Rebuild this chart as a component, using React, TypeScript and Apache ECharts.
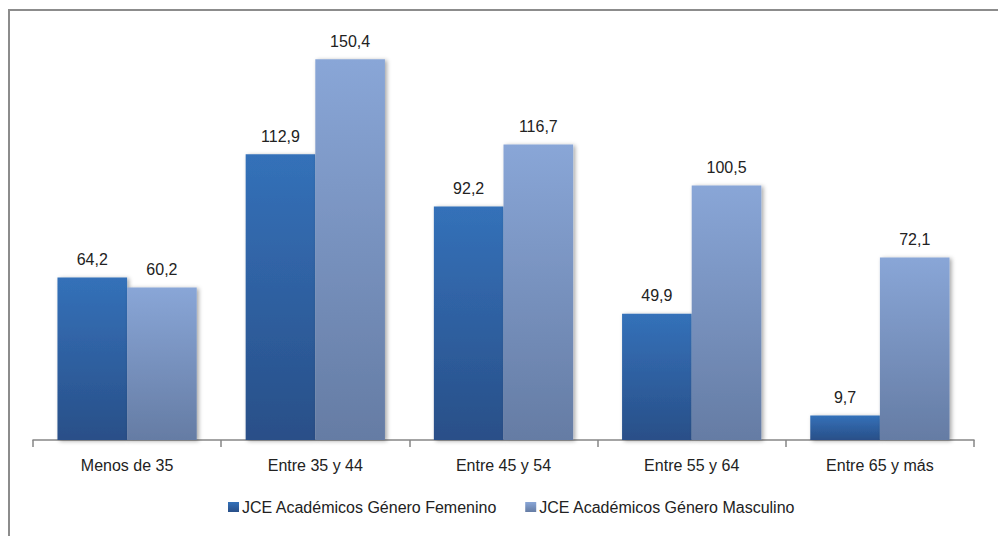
import React, { useEffect, useRef } from "react";
import * as echarts from "echarts";

const categories = ["Menos de 35", "Entre 35 y 44", "Entre 45 y 54", "Entre 55 y 64", "Entre 65 y más"];
const femenino = [64.2, 112.9, 92.2, 49.9, 9.7];
const masculino = [60.2, 150.4, 116.7, 100.5, 72.1];
const seriesNames = ["JCE Académicos Género Femenino", "JCE Académicos Género Masculino"];

const FONT = "'Liberation Sans Narrow', 'Arial Narrow', 'Liberation Sans', Arial, sans-serif";

export default function App() {
  const ref = useRef<HTMLDivElement>(null);
  useEffect(() => {
    if (!ref.current) return;
    const chart = echarts.init(ref.current, null, { renderer: "svg" });
    const fmt = (p: any) => String(p.value.toFixed(1)).replace(".", ",");
    const shadow = {
      shadowColor: "rgba(0,0,0,0.35)",
      shadowBlur: 4,
      shadowOffsetX: 2,
      shadowOffsetY: 1,
    };
    const labelStyle = {
      show: true,
      position: "top",
      distance: 10,
      formatter: fmt,
      fontFamily: FONT,
      fontSize: 16,
      color: "#222",
    };
    chart.setOption({
      animation: false,
      backgroundColor: "#ffffff",
      graphic: [
        {
          type: "rect",
          shape: { x: 9, y: 10, width: 1010, height: 600 },
          style: { fill: "none", stroke: "#8c8c8c", lineWidth: 2 },
          silent: true,
        },
      ],
      legend: {
        bottom: 16,
        left: 223,
        itemWidth: 11,
        itemHeight: 10,
        itemGap: 28,
        icon: "rect",
        textStyle: { fontFamily: FONT, fontSize: 16, color: "#222", padding: [0, 0, 0, -2] },
        data: seriesNames,
      },
      grid: { left: 33, right: 24, top: 35, bottom: 96, containLabel: false },
      xAxis: {
        type: "category",
        data: categories,
        axisLine: { lineStyle: { color: "#868686", width: 1.5 } },
        axisTick: { show: true, length: 7, alignWithLabel: false, lineStyle: { color: "#868686", width: 1.5 } },
        axisLabel: { fontFamily: FONT, fontSize: 16, color: "#222", margin: 17 },
      },
      yAxis: {
        type: "value",
        min: 0,
        max: 160,
        show: false,
        splitLine: { show: false },
      },
      series: [
        {
          name: seriesNames[0],
          type: "bar",
          data: femenino,
          barGap: "0%",
          barCategoryGap: "26%",
          itemStyle: {
            color: new echarts.graphic.LinearGradient(0, 0, 0, 1, [
              { offset: 0, color: "#3471b9" },
              { offset: 1, color: "#294f88" },
            ]),
            ...shadow,
          },
          label: labelStyle,
        },
        {
          name: seriesNames[1],
          type: "bar",
          data: masculino,
          barGap: "0%",
          barCategoryGap: "26%",
          itemStyle: {
            color: new echarts.graphic.LinearGradient(0, 0, 0, 1, [
              { offset: 0, color: "#89a6d7" },
              { offset: 1, color: "#657ca4" },
            ]),
            ...shadow,
          },
          label: labelStyle,
        },
      ],
    });
    return () => chart.dispose();
  }, []);
  return (
    <div
      ref={ref}
      style={{ position: "fixed", left: 0, top: 0, width: 998, height: 536 }}
    />
  );
}
